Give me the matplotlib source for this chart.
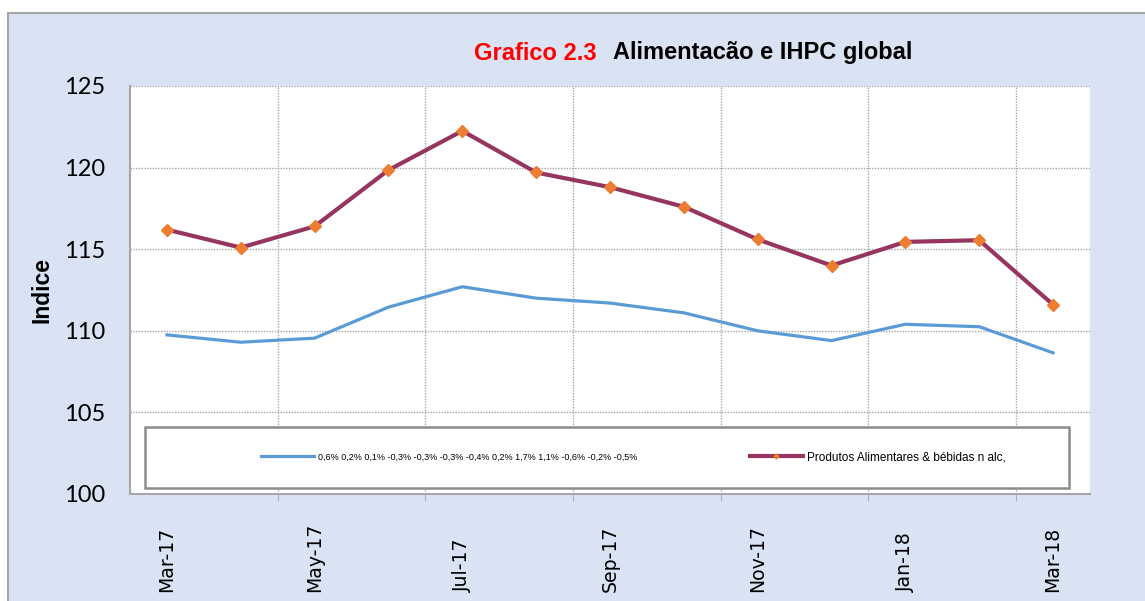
import numpy as np
import matplotlib
matplotlib.use("Agg")
import matplotlib.pyplot as plt
from matplotlib.patches import Rectangle
from matplotlib.lines import Line2D

# dados
meses = ["Mar-17", "Apr-17", "May-17", "Jun-17", "Jul-17", "Aug-17", "Sep-17",
         "Oct-17", "Nov-17", "Dec-17", "Jan-18", "Feb-18", "Mar-18"]
ihpc_global = [109.75, 109.3, 109.55, 111.45, 112.7, 112.0, 111.7,
               111.1, 110.0, 109.4, 110.4, 110.25, 108.65]
alimentares = [116.2, 115.1, 116.4, 119.85, 122.25, 119.7, 118.8,
               117.6, 115.6, 114.0, 115.45, 115.55, 111.6]
label_global = "0,6% 0,2% 0,1% -0,3% -0,3% -0,3% -0,4% 0,2% 1,7% 1,1% -0,6% -0,2% -0,5%"
label_alim = "Produtos Alimentares & bébidas n alc,"
y_ticks = [100, 105, 110, 115, 120, 125]

W, H = 1145, 601
fig = plt.figure(figsize=(W / 100, H / 100), dpi=100)
fig.patch.set_facecolor("white")

# fundo azul claro com borda
fig.patches.append(Rectangle((8 / W, -0.01), 1.0, 1.01 - 13 / H, transform=fig.transFigure,
                             facecolor="#DAE3F3", edgecolor="#A6A6A6", linewidth=1.5,
                             zorder=-10))

ax = fig.add_axes([130 / W, 1 - 494 / H, (1090 - 130) / W, (494 - 86) / H])
ax.set_facecolor("white")

x = np.arange(len(meses))
ax.plot(x, ihpc_global, color="#5B9BD5", linewidth=2.3, zorder=3)
ax.plot(x, alimentares, color="#953560", linewidth=3, marker="D", markersize=6.5,
        markerfacecolor="#ED7D31", markeredgecolor="#ED7D31", zorder=4)

ax.set_xlim(-0.5, len(meses) - 0.5)
ax.set_ylim(100, 125)
ax.set_yticks(y_ticks)
ax.set_yticklabels([str(v) for v in y_ticks], fontsize=17, family="Lato")
ax.tick_params(axis="y", length=0, pad=18)

# grelha vertical entre categorias
ax.set_xticks(np.arange(1.5, len(meses) - 1, 2), minor=True)
ax.set_xticks([])
ax.tick_params(axis="x", which="minor", length=5, color="#A6A6A6", direction="out")
ax.grid(True, which="minor", axis="x", linestyle=(0, (1, 1)), color="#A6A6A6", linewidth=1)
ax.grid(True, which="major", axis="y", linestyle=(0, (1, 1)), color="#A6A6A6", linewidth=1)
ax.set_axisbelow(True)

for s in ["top", "right"]:
    ax.spines[s].set_visible(False)
for s in ["left", "bottom"]:
    ax.spines[s].set_color("#A6A6A6")
    ax.spines[s].set_linewidth(1.5)

# rotulos do eixo x
for i in range(0, len(meses), 2):
    ax.text(i, (494 - 592) / 408, meses[i], rotation=90, ha="center", va="bottom",
            fontsize=13.6, family="DejaVu Sans",
            transform=ax.get_xaxis_transform())

ax.set_ylabel("Indice", fontsize=16.5, fontweight="bold", family="Liberation Sans",
              va="center")
ax.yaxis.set_label_coords((42 - 130) / 960, (494 - 290) / 408)

# titulo em duas cores
fig.text(474 / W, 1 - 53 / H, "Grafico 2.3", color="#FF0000", fontsize=17,
         fontweight="bold", family="Liberation Sans", ha="left", va="center")
fig.text(613 / W, 1 - 53 / H, "Alimentacão e IHPC global", color="black", fontsize=17,
         fontweight="bold", family="Liberation Sans", ha="left", va="center")

# caixa da legenda
ax.add_patch(Rectangle(((145 - 130) / 960, (494 - 488) / 408), (1069 - 145) / 960,
                       (488 - 427) / 408, transform=ax.transAxes, facecolor="white",
                       edgecolor="#8C8C8C", linewidth=1.8, zorder=5))
h1 = Line2D([], [], color="#5B9BD5", linewidth=2.3)
h2 = Line2D([], [], color="#953560", linewidth=3, marker="D", markersize=2.5,
            markerfacecolor="#ED7D31", markeredgecolor="#ED7D31")
leg1 = ax.legend([h1], [label_global], loc="center left", frameon=False,
                 bbox_to_anchor=((253 - 130) / 960, (494 - 457) / 408),
                 prop={"family": "Liberation Sans", "size": 6.5}, handlelength=5.9,
                 handletextpad=0.4)
leg1.set_zorder(6)
ax.add_artist(leg1)
leg2 = ax.legend([h2], [label_alim], loc="center left", frameon=False,
                 bbox_to_anchor=((739 - 130) / 960, (494 - 457) / 408),
                 prop={"family": "Liberation Sans", "size": 8.5}, handlelength=4.5,
                 handletextpad=0.35)
leg2.set_zorder(6)

fig.savefig("out.png", dpi=100)
